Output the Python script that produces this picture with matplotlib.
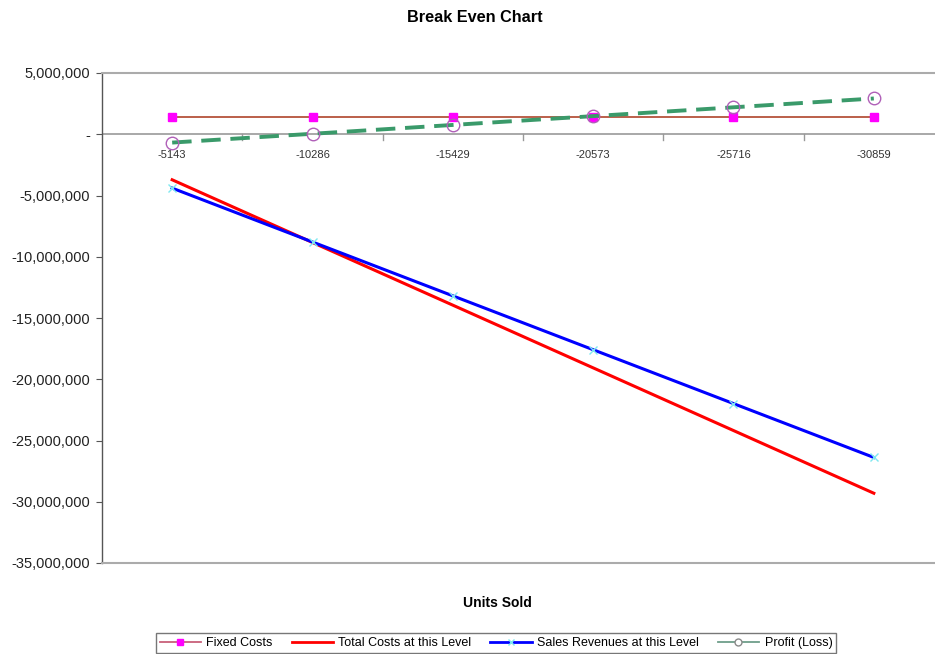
import matplotlib.pyplot as plt
from matplotlib.lines import Line2D
from matplotlib.ticker import FuncFormatter

plt.rcParams["font.family"] = ["Liberation Sans", "DejaVu Sans"]

# ===== data =====
units = ["-5143", "-10286", "-15429", "-20573", "-25716", "-30859"]
fixed_costs = [1400000, 1400000, 1400000, 1400000, 1400000, 1400000]
total_costs = [-3717000, -8835000, -13952000, -19070000, -24187000, -29305000]
sales_rev = [-4397000, -8795000, -13192000, -17590000, -21987000, -26384000]
profit = [-680000, 40000, 760000, 1480000, 2200000, 2920000]


def money(v, pos):
    if v == 0:
        return "-"
    return f"{v:,.0f}"


fig = plt.figure(figsize=(9.35, 6.54), dpi=100)
W, H = 935, 654
# plot area runs a bit past the right edge of the figure
ax = fig.add_axes([102 / W, (H - 563) / H, (944 - 102) / W, (563 - 73) / H])

x = list(range(len(units)))
ax.plot(x, fixed_costs, color="#B5533C", lw=1.3, marker="s", ms=6,
        mfc="#FF00FF", mec="#FF00FF", zorder=3)
ax.plot(x, total_costs, color="#FF0000", lw=2.2, zorder=3)
ax.plot(x, sales_rev, color="#0000FF", lw=2.2, marker="x", ms=6, mec="#7FE8F0",
        mew=1.0, zorder=4)
ax.plot(x, profit, color="#3A9A6A", lw=2.8, ls=(0, (5, 2.5)), marker="o", ms=9,
        mfc="none", mec="#B060B8", mew=1.0, zorder=5)

ax.set_xlim(-0.5, len(units) - 0.5)
ax.set_ylim(-35000000, 5000000)
ax.set_yticks(range(-35000000, 5000001, 5000000))
ax.yaxis.set_major_formatter(FuncFormatter(money))
ax.set_xticks([])

# category axis drawn along y = 0
ax.axhline(0, color="#999999", lw=1.2, zorder=2)
for i in range(1, len(units)):
    ax.plot([i - 0.5, i - 0.5], [0, -500000], color="#999999", lw=1, zorder=2)
for i, lab in enumerate(units):
    ax.text(i, -1700000, lab, ha="center", va="center", fontsize=8, color="#333333")

for s in ["top", "bottom", "right"]:
    ax.spines[s].set_color("#ABABAB")
    ax.spines[s].set_linewidth(1.5)
ax.spines["left"].set_color("#555555")
ax.spines["left"].set_linewidth(1)
ax.tick_params(axis="y", labelsize=10.5, colors="#555555", labelcolor="#222222",
               length=4, pad=4.5)

fig.text(475 / W, 1 - 17 / H, "Break Even Chart", ha="center", va="center",
         fontsize=11.7, fontweight="bold")
fig.text(497 / W, 1 - 603 / H, "Units Sold", ha="center", va="center",
         fontsize=10, fontweight="bold")

# legend keys, drawn the simple way
handles = [
    Line2D([], [], color="#C8607A", lw=1.3, marker="s", ms=5, mfc="#FF00FF", mec="#FF00FF"),
    Line2D([], [], color="#FF0000", lw=2),
    Line2D([], [], color="#0000FF", lw=2, marker="x", ms=4, mec="#7FE8F0"),
    Line2D([], [], color="#6E9E8A", lw=1.3, marker="o", ms=5, mfc="white", mec="#8A8A8A"),
]
labels = ["Fixed Costs", "Total Costs at this Level", "Sales Revenues at this Level",
          "Profit (Loss)"]
leg = fig.legend(handles, labels, loc="center", bbox_to_anchor=(496 / W, 1 - 643 / H),
                 ncol=4, fontsize=9, frameon=True, fancybox=False, borderpad=0.3,
                 handlelength=3.3, columnspacing=1.5, handletextpad=0.45)
leg.get_frame().set_edgecolor("#555555")
leg.get_frame().set_linewidth(1)

plt.savefig("out.png", dpi=100)
